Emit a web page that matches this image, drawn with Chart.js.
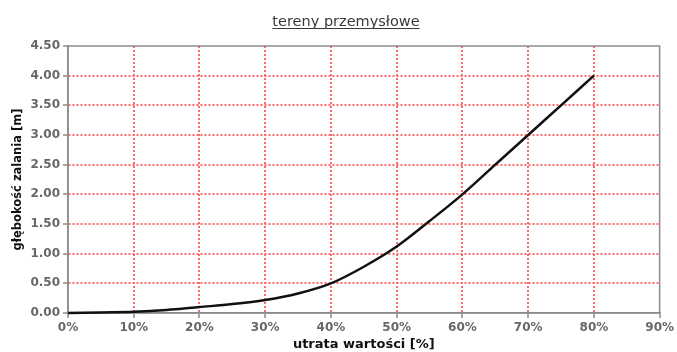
<!DOCTYPE html>
<html>
<head>
<meta charset="utf-8">
<script src="https://cdn.jsdelivr.net/npm/chart.js@4/dist/chart.umd.min.js"></script>
<style>
  html, body { margin: 0; padding: 0; background: #fff; }
  #wrap { width: 677px; height: 352px; }
</style>
</head>
<body>
<div id="wrap"><canvas id="c" width="677" height="352"></canvas></div>
<script>
// Loss of value (%) vs. flood depth (m) for industrial land
const chartTitle = 'tereny przemysłowe';
const xTitle = 'utrata wartości [%]';
const yTitle = 'głębokość zalania [m]';

const lossPercent = [0, 5, 10, 15, 20, 25, 30, 35, 40, 45, 50, 55, 60, 65, 70, 75, 80];
const depthMeters = [0, 0.01, 0.02, 0.05, 0.10, 0.15, 0.22, 0.33, 0.50, 0.78, 1.12, 1.55, 2.00, 2.50, 3.00, 3.50, 4.00];

const xMin = 0, xMax = 90, xStep = 10;
const yMin = 0, yMax = 4.5, yStep = 0.5;

const gridRed = '#ff6a6a';
const axisGrey = '#8c8c8c';
const tickText = '#676767';
const fontFamily = '"DejaVu Sans", Verdana, sans-serif';

// grid lines on the frame edges are left to the grey frame
const gridColorFor = (lo, hi) => c => (c.tick && (c.tick.value === lo || c.tick.value === hi)) ? 'rgba(0,0,0,0)' : gridRed;

// Underlined chart title and the frame around the plot area
const decorations = {
  id: 'decorations',
  beforeDatasetsDraw(chart) {
    const { ctx, chartArea: a } = chart;
    ctx.save();
    ctx.strokeStyle = axisGrey;
    ctx.lineWidth = 1.5;
    ctx.strokeRect(a.left, a.top, a.right - a.left, a.bottom - a.top);
    ctx.restore();
  },
  afterDraw(chart) {
    const { ctx } = chart;
    ctx.save();
    ctx.font = '14.5px ' + fontFamily;
    ctx.fillStyle = '#3a3a3a';
    ctx.textAlign = 'center';
    ctx.textBaseline = 'alphabetic';
    const cx = 346, by = 26;
    ctx.fillText(chartTitle, cx, by);
    const w = ctx.measureText(chartTitle).width;
    ctx.strokeStyle = '#3a3a3a';
    ctx.lineWidth = 1;
    ctx.beginPath();
    ctx.moveTo(cx - w / 2, by + 2.5);
    ctx.lineTo(cx + w / 2, by + 2.5);
    ctx.stroke();
    ctx.restore();
  }
};

const points = lossPercent.map((x, i) => ({ x: x, y: depthMeters[i] }));

new Chart(document.getElementById('c'), {
  type: 'line',
  data: {
    datasets: [{
      data: points,
      borderColor: '#111',
      borderWidth: 2.5,
      pointRadius: 0,
      fill: false,
      cubicInterpolationMode: 'monotone',
      clip: false
    }]
  },
  options: {
    responsive: false,
    animation: false,
    events: [],
    layout: { padding: { top: 46, right: 13, left: 0, bottom: 0 } },
    plugins: { legend: { display: false }, tooltip: { enabled: false }, title: { display: false } },
    scales: {
      x: {
        type: 'linear',
        min: xMin, max: xMax,
        afterFit(scale) { scale.height = 39; },
        ticks: {
          stepSize: xStep,
          padding: 3,
          color: tickText,
          font: { family: fontFamily, size: 12, weight: 'bold' },
          callback: v => v + '%'
        },
        grid: { color: gridColorFor(xMin, xMax), lineWidth: 2, tickLength: 5, tickColor: axisGrey, tickWidth: 1.5 },
        border: { color: axisGrey, width: 1.5, dash: [2, 2] },
        title: {
          display: true, text: xTitle, color: '#111',
          font: { family: fontFamily, size: 13, weight: 'bold' },
          padding: { top: 0, bottom: 0 }
        }
      },
      y: {
        min: yMin, max: yMax,
        afterFit(scale) { scale.width = 68; },
        ticks: {
          stepSize: yStep,
          padding: 3,
          color: tickText,
          font: { family: fontFamily, size: 12, weight: 'bold' },
          callback: v => v.toFixed(2)
        },
        grid: { color: gridColorFor(yMin, yMax), lineWidth: 2, tickLength: 5, tickColor: axisGrey, tickWidth: 1.5 },
        border: { color: axisGrey, width: 1.5, dash: [2, 2] },
        title: {
          display: true, text: yTitle, color: '#111',
          font: { family: fontFamily, size: 11.5, weight: 'bold' },
          padding: { top: 11, bottom: 0 }
        }
      }
    }
  },
  plugins: [decorations]
});
</script>
</body>
</html>
